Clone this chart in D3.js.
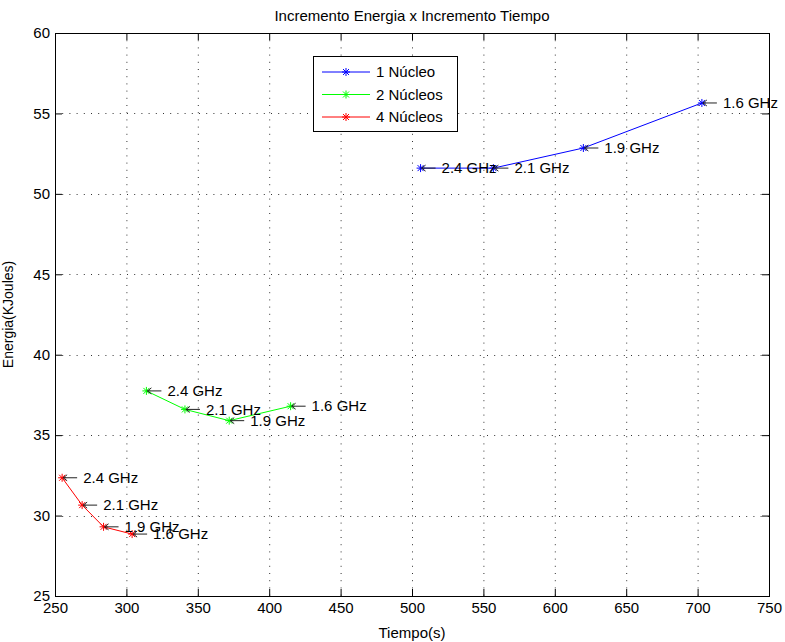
<!DOCTYPE html>
<html>
<head>
<meta charset="utf-8">
<script src="https://cdn.jsdelivr.net/npm/d3@7"></script>
<style>
  body { margin: 0; background: #fff; }
  svg text { font-family: "Liberation Sans", Arial, Helvetica, sans-serif; fill: #000; }
</style>
</head>
<body>
<div id="chart"></div>
<script>
// series data
var seriesNames = ["1 Núcleo", "2 Núcleos", "4 Núcleos"];
var seriesColors = ["#0000ff", "#00ff00", "#ff0000"];
var freqLabels = ["2.4 GHz", "2.1 GHz", "1.9 GHz", "1.6 GHz"];

var tiempo1 = [506, 557, 620, 703];
var energia1 = [51.6, 51.6, 52.85, 55.65];
var tiempo2 = [314, 341, 372, 415];
var energia2 = [37.75, 36.6, 35.9, 36.8];
var tiempo4 = [255, 269, 284, 304];
var energia4 = [32.35, 30.65, 29.3, 28.85];

var xTicks = [250, 300, 350, 400, 450, 500, 550, 600, 650, 700, 750];
var yTicks = [25, 30, 35, 40, 45, 50, 55, 60];

var W = 785, H = 642;
var margin = {top: 33, right: 16, bottom: 46, left: 55};
var w = W - margin.left - margin.right,
    h = H - margin.top - margin.bottom;

var svg = d3.select("#chart").append("svg")
    .attr("width", W)
    .attr("height", H);

var g = svg.append("g")
    .attr("transform", "translate(" + margin.left + "," + margin.top + ")");

var x = d3.scaleLinear().domain([250, 750]).range([0, w]);
var y = d3.scaleLinear().domain([25, 60]).range([h, 0]);

// dotted grid
g.append("g").attr("class", "grid")
    .selectAll("line.gx").data(xTicks.slice(1, -1)).enter().append("line")
    .attr("x1", function(d) { return x(d) + 0.5; })
    .attr("x2", function(d) { return x(d) + 0.5; })
    .attr("y1", 0).attr("y2", h)
    .style("stroke", "#333").style("stroke-dasharray", "1,6.2");
g.select(".grid")
    .selectAll("line.gy").data(yTicks.slice(1, -1)).enter().append("line")
    .attr("y1", function(d) { return Math.round(y(d)) + 0.5; })
    .attr("y2", function(d) { return Math.round(y(d)) + 0.5; })
    .attr("x1", 0).attr("x2", w)
    .style("stroke", "#333").style("stroke-dasharray", "1,6.2");

// axes with inward ticks on all four sides
function styleAxis(sel) {
    sel.select(".domain").remove();
    sel.selectAll("line").style("stroke", "#000");
    sel.selectAll("text").style("font-size", "15px").style("fill", "#000");
}

g.append("g").attr("transform", "translate(0," + h + ")")
    .call(d3.axisBottom(x).tickValues(xTicks).tickSize(-7).tickPadding(6).tickFormat(d3.format("d")))
    .call(styleAxis);
g.append("g")
    .call(d3.axisTop(x).tickValues(xTicks).tickSize(-7).tickFormat(""))
    .call(styleAxis);
g.append("g")
    .call(d3.axisLeft(y).tickValues(yTicks).tickSize(-7).tickPadding(5).tickFormat(d3.format("d")))
    .call(styleAxis);
g.append("g").attr("transform", "translate(" + w + ",0)")
    .call(d3.axisRight(y).tickValues(yTicks).tickSize(-7).tickFormat(""))
    .call(styleAxis);

g.append("rect")
    .attr("x", 0.5).attr("y", 0.5)
    .attr("width", w).attr("height", h)
    .style("fill", "none").style("stroke", "#000").style("stroke-width", 1);

// star marker
function star(cx, cy) {
    var r = 4, d = 3;
    return "M" + (cx - r) + "," + cy + "H" + (cx + r) +
        "M" + cx + "," + (cy - r) + "V" + (cy + r) +
        "M" + (cx - d) + "," + (cy - d) + "L" + (cx + d) + "," + (cy + d) +
        "M" + (cx - d) + "," + (cy + d) + "L" + (cx + d) + "," + (cy - d);
}

var series = [
    {name: seriesNames[0], color: seriesColors[0], t: tiempo1, e: energia1},
    {name: seriesNames[1], color: seriesColors[1], t: tiempo2, e: energia2},
    {name: seriesNames[2], color: seriesColors[2], t: tiempo4, e: energia4}
];
series.forEach(function(s) {
    s.points = s.t.map(function(t, i) { return {t: t, e: s.e[i], label: freqLabels[i]}; });
});

var line = d3.line()
    .x(function(d) { return x(d.t); })
    .y(function(d) { return y(d.e); });

var sg = g.selectAll(".series").data(series).enter().append("g").attr("class", "series");

sg.append("path")
    .attr("d", function(d) { return line(d.points); })
    .style("fill", "none")
    .style("stroke", function(d) { return d.color; })
    .style("stroke-width", 1);

sg.each(function(s) {
    var el = d3.select(this);
    el.selectAll(".mk").data(s.points).enter().append("path")
        .attr("class", "mk")
        .attr("d", function(d) { return star(x(d.t), y(d.e)); })
        .style("stroke", s.color).style("fill", "none");
});

// annotations: "<- 2.4 GHz"
sg.each(function(s) {
    var el = d3.select(this);
    var ann = el.selectAll(".ann").data(s.points).enter().append("g").attr("class", "ann");
    ann.append("path")
        .attr("d", function(d) {
            var px = x(d.t) + 1, py = y(d.e);
            return "M" + px + "," + py + "H" + (px + 14) +
                "M" + px + "," + py + "L" + (px + 4) + "," + (py - 3) +
                "M" + px + "," + py + "L" + (px + 4) + "," + (py + 3);
        })
        .style("stroke", "#222").style("fill", "none").style("stroke-width", 1);
    ann.append("text")
        .attr("x", function(d) { return x(d.t) + 21; })
        .attr("y", function(d) { return y(d.e); })
        .attr("dy", "0.35em")
        .style("font-size", "15px")
        .text(function(d) { return d.label; });
});

// legend
var legend = svg.append("g").attr("transform", "translate(313,56)");
legend.append("rect")
    .attr("x", 0.5).attr("y", 0.5)
    .attr("width", 144).attr("height", 75)
    .style("fill", "#fff").style("stroke", "#000");
var li = legend.selectAll(".li").data(series).enter().append("g")
    .attr("transform", function(d, i) { return "translate(0," + (16 + i * 22.5) + ")"; });
li.append("line")
    .attr("x1", 9).attr("x2", 57).attr("y1", 0).attr("y2", 0)
    .style("stroke", function(d) { return d.color; });
li.append("path")
    .attr("d", star(33, 0))
    .style("stroke", function(d) { return d.color; }).style("fill", "none");
li.append("text")
    .attr("x", 63).attr("y", 0).attr("dy", "0.35em")
    .style("font-size", "15px")
    .text(function(d) { return d.name; });

// titles
svg.append("text")
    .attr("x", margin.left + w / 2).attr("y", 21)
    .attr("text-anchor", "middle")
    .style("font-size", "15px")
    .text("Incremento Energia x Incremento Tiempo");
svg.append("text")
    .attr("x", margin.left + w / 2).attr("y", 638)
    .attr("text-anchor", "middle")
    .style("font-size", "15px")
    .text("Tiempo(s)");
svg.append("text")
    .attr("transform", "translate(13," + (margin.top + h / 2) + ") rotate(-90)")
    .attr("text-anchor", "middle")
    .style("font-size", "14px")
    .text("Energia(KJoules)");
</script>
</body>
</html>
